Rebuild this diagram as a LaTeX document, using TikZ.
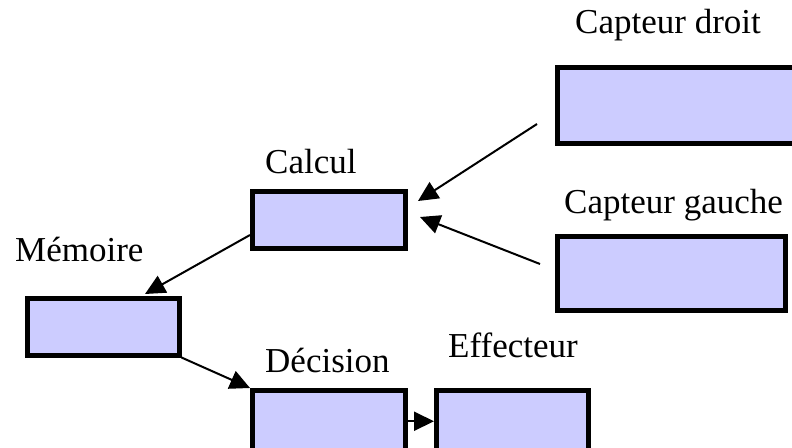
\documentclass[tikz,border=0pt]{standalone}
\usepackage{fontspec}
\setmainfont{Liberation Serif}
\usetikzlibrary{arrows.meta}
\definecolor{boxfill}{HTML}{CCCCFF}
\begin{document}
\begin{tikzpicture}[x=1pt,y=-1pt,
  block/.style={draw=black, line width=4.5pt, fill=boxfill, inner sep=0pt, anchor=north west},
  lbl/.style={anchor=base west, inner sep=0pt, font=\fontsize{35}{40}\selectfont},
  link/.style={line width=2pt, -{Triangle[length=20pt,width=19pt]}}]
\useasboundingbox (0,0) rectangle (792,447);
\clip (0,0) rectangle (792,447);

% boxes
\node[block, minimum width=153pt, minimum height=57pt] (calc) at (250,189) {};
\node[block, minimum width=152pt, minimum height=57pt] (mem)  at (25,296) {};
\node[block, minimum width=153pt, minimum height=62pt] (dec)  at (250,388) {};
\node[block, minimum width=152pt, minimum height=62pt] (eff)  at (434,388) {};
\node[block, minimum width=260pt, minimum height=76pt] (capd) at (555,65) {};
\node[block, minimum width=228pt, minimum height=74pt] (capg) at (555,234) {};

% labels
\node[lbl] (tcapd) at (575,33)  {Capteur droit};
\node[lbl] (tcalc) at (265,173) {Calcul};
\node[lbl] (tcapg) at (564,213) {Capteur gauche};
\node[lbl] (tmem)  at (15,261)  {Mémoire};
\node[lbl] (tdec)  at (265,372) {Décision};
\node[lbl] (teff)  at (448,357) {Effecteur};

% free ends of the sensor and memory arrows
\coordinate (capdout) at (537,124);
\coordinate (calcin1) at (418,201);
\coordinate (capgout) at (540,264);
\coordinate (calcin2) at (420,217);
\coordinate (calcout) at (250,235);
\coordinate (memin)   at (145,294);

% connectors
\draw[link] (capdout) -- (calcin1);
\draw[link] (capgout) -- (calcin2);
\draw[link] (calcout) -- (memin);
\draw[link] (mem.south east) -- (dec.north west);
\draw[link] (dec.east) -- (eff.west);
\end{tikzpicture}
\end{document}
